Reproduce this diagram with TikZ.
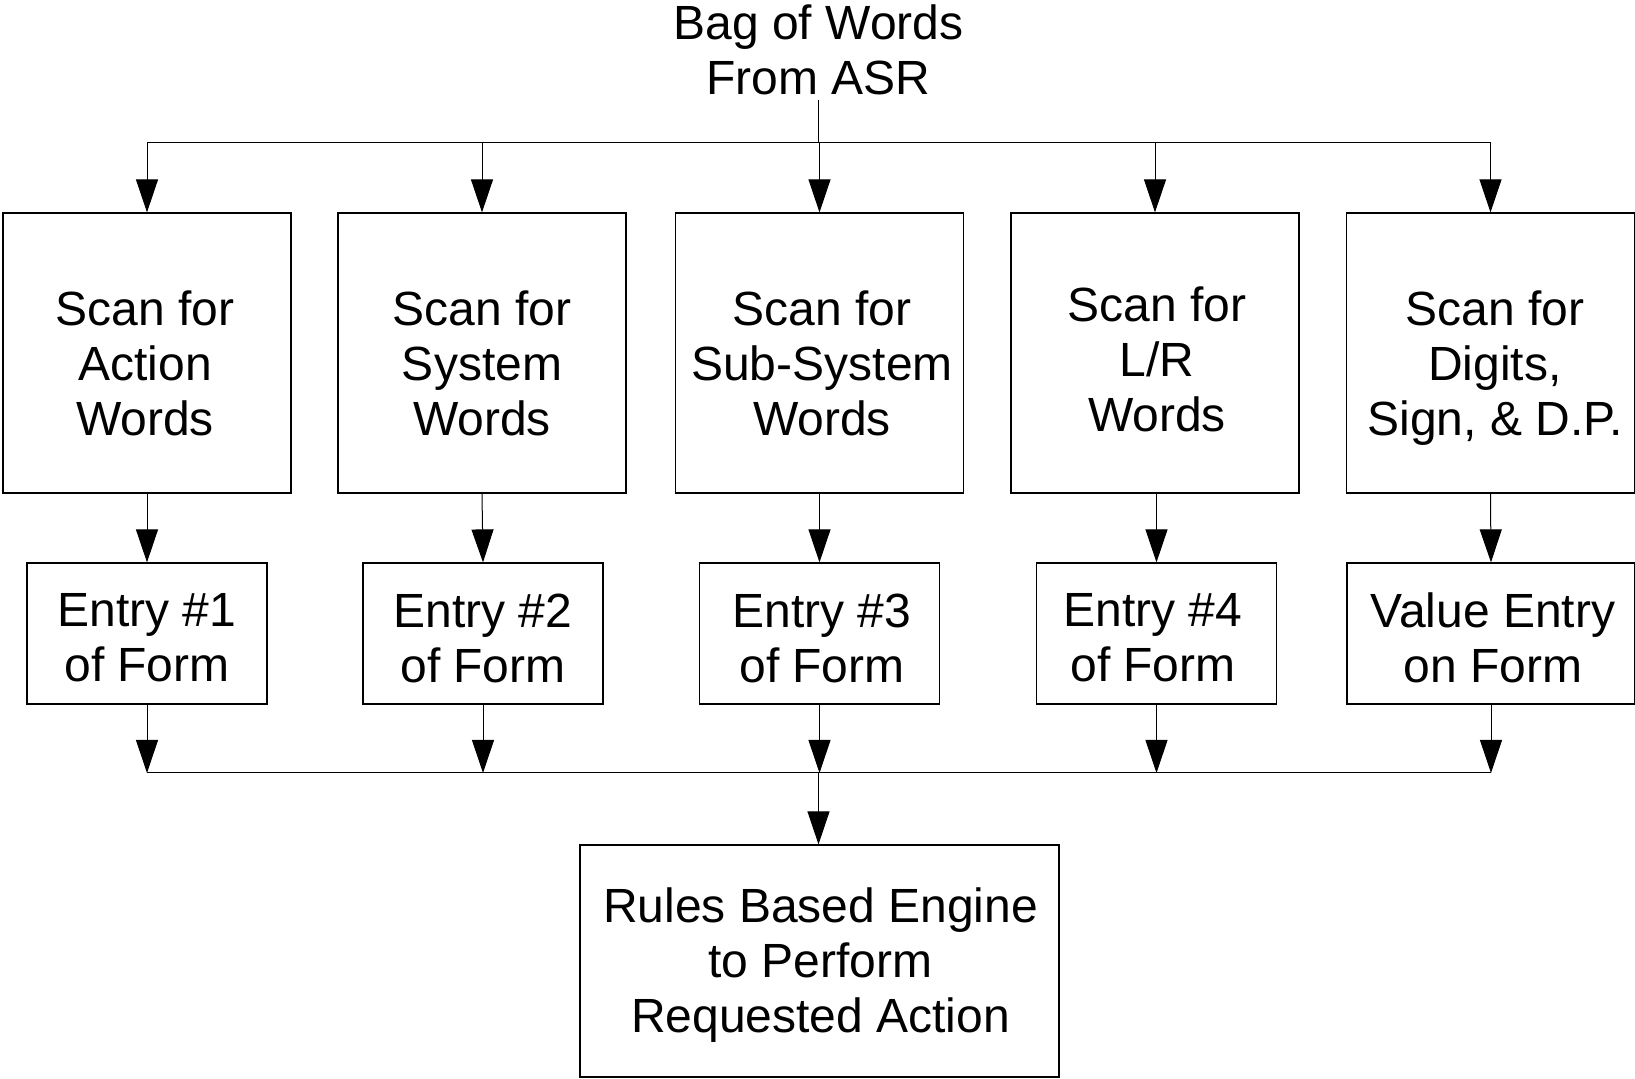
\documentclass[tikz,border=0pt]{standalone}
\usepackage{fontspec}
\setmainfont{Liberation Sans}
\usetikzlibrary{arrows.meta}
\begin{document}
\begin{tikzpicture}[x=0.5pt,y=-0.5pt,
  every node/.style={font=\fontsize{24}{27.5}\selectfont},
  bigbox/.style={draw,line width=0.6pt,minimum width=144pt,minimum height=140pt,inner sep=0pt},
  entrybox/.style={draw,line width=0.6pt,minimum width=120pt,minimum height=70.5pt,inner sep=0pt},
  txt/.style={align=center,inner sep=0pt},
  conn/.style={line width=0.5pt},
  arr/.style={line width=0.5pt,-{Triangle[length=16.5pt,width=11pt]}}
]
\useasboundingbox (0,0) rectangle (1635,1079);

% title
\node[txt] (title) at (818.5,50) {Bag of Words\\From ASR};
\coordinate (tb) at (818.5,143);
\coordinate (bb) at (818.5,773);

% top boxes
\node[bigbox] (b1) at (147,353) {};
\node[bigbox] (b2) at (482,353) {};
\node[bigbox] (b3) at (819.5,353) {};
\node[bigbox] (b4) at (1155,353) {};
\node[bigbox] (b5) at (1490.5,353) {};
\node[txt] (t1) at (145,363) {Scan for\\Action\\Words};
\node[txt] (t2) at (482,363) {Scan for\\System\\Words};
\node[txt] (t3) at (822,363) {Scan for\\Sub-System\\Words};
\node[txt] (t4) at (1157,359) {Scan for\\L/R\\Words};
\node[txt] (t5) at (1495,368) {Scan for\\Digits,\\Sign, \& D.P.};

% entry boxes
\node[entrybox] (e1) at (147,633.5) {};
\node[entrybox] (e2) at (483,633.5) {};
\node[entrybox] (e3) at (819.5,633.5) {};
\node[entrybox] (e4) at (1156.5,633.5) {};
\node[entrybox,minimum width=144pt] (e5) at (1491,633.5) {};
\node[txt] (f1) at (147,638) {Entry \#1\\of Form};
\node[txt] (f2) at (483,638) {Entry \#2\\of Form};
\node[txt] (f3) at (822,638) {Entry \#3\\of Form};
\node[txt] (f4) at (1153,638) {Entry \#4\\of Form};
\node[txt] (f5) at (1493,638) {Value Entry\\on Form};

% bottom box
\node[draw,line width=0.6pt,minimum width=239.5pt,minimum height=116pt,inner sep=0pt] (rb) at (819.5,961) {};
\node[txt] (rt) at (820.5,965.5) {Rules Based Engine\\to Perform\\Requested Action};

% connectors top
\draw[conn] ([yshift=-2pt]title.south) -- (tb);
\draw[conn] (b1.north |- tb) -- (b5.north |- tb);
\foreach \b in {b1,b2,b3,b4,b5}{
  \draw[arr] (\b.north |- tb) -- (\b.north);
}
% top boxes to entries
\draw[arr] (b1.south) -- (e1.north);
\draw[arr] (b2.south) -- (e2.north);
\draw[arr] (b3.south -| e3.north) -- (e3.north);
\draw[arr] (b4.south -| e4.north) -- (e4.north);
\draw[arr] (b5.south) -- (e5.north);
% entries to bottom bus
\foreach \e in {e1,e2,e3,e4,e5}{
  \draw[arr] (\e.south) -- (\e.south |- bb);
}
\draw[conn] (e1.south |- bb) -- (e5.south |- bb);
\draw[arr] (bb) -- (bb |- rb.north);
\end{tikzpicture}
\end{document}
